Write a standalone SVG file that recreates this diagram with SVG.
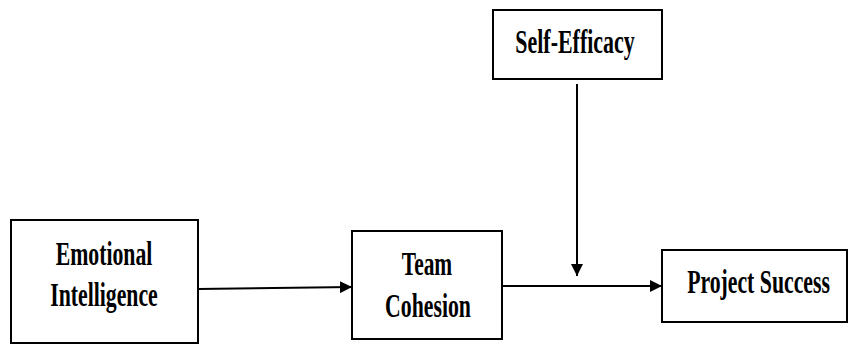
<svg xmlns="http://www.w3.org/2000/svg" width="848" height="345" viewBox="0 0 848 345">
<style>
.box{fill:#fff;stroke:#000;stroke-width:2}
.lbl{font-family:"Liberation Serif","Times New Roman",serif;font-weight:bold;font-size:34px;fill:#000;text-anchor:middle}
.conn{stroke:#000;stroke-width:2;fill:none}
</style>
<defs>
<marker id="ah" viewBox="0 0 12 12" refX="12" refY="6" markerWidth="12" markerHeight="12" markerUnits="userSpaceOnUse" orient="auto">
<path d="M0,0 L12,6 L0,12 z" fill="#000"/>
</marker>
</defs>
<rect width="848" height="345" fill="#fff"/>
<g id="emotional-intelligence">
<rect class="box" x="11" y="220" width="187" height="123"/>
<text class="lbl" transform="translate(104,265) scale(0.64,1)">Emotional</text>
<text class="lbl" transform="translate(104,306) scale(0.64,1)">Intelligence</text>
</g>
<g id="team-cohesion">
<rect class="box" x="352" y="231" width="150" height="108"/>
<text class="lbl" transform="translate(427,275) scale(0.63,1)">Team</text>
<text class="lbl" transform="translate(428,317) scale(0.64,1)">Cohesion</text>
</g>
<g id="self-efficacy">
<rect class="box" x="493" y="10" width="169" height="69"/>
<text class="lbl" transform="translate(575,53) scale(0.645,1)">Self-Efficacy</text>
</g>
<g id="project-success">
<rect class="box" x="662" y="250" width="185" height="72"/>
<text class="lbl" transform="translate(758.5,293) scale(0.64,1)">Project Success</text>
</g>
<g id="connectors">
<line class="conn" x1="198" y1="289" x2="352" y2="287" marker-end="url(#ah)"/>
<line class="conn" x1="502" y1="286" x2="662" y2="286" marker-end="url(#ah)"/>
<line class="conn" x1="577" y1="84" x2="577" y2="276" marker-end="url(#ah)"/>
</g>
</svg>
